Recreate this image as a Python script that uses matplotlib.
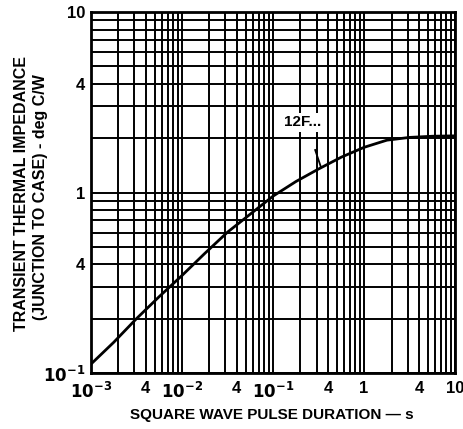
import matplotlib.pyplot as plt
from matplotlib.ticker import FixedLocator, NullFormatter

plt.rcParams['font.family'] = ['Liberation Sans', 'DejaVu Sans']
plt.rcParams['font.weight'] = 'bold'

# Curve (pulse duration s, impedance deg C/W)
pulse_s = [0.001, 0.00178, 0.00316, 0.00562, 0.01, 0.0178, 0.0316, 0.0562,
           0.1, 0.178, 0.316, 0.562, 1.0, 1.78, 3.16, 5.62, 10.0]
z_thermal = [0.112, 0.148, 0.20, 0.265, 0.347, 0.46, 0.603, 0.759,
             0.955, 1.15, 1.35, 1.57, 1.78, 1.95, 2.02, 2.05, 2.06]

x_ticks = [1e-3, 4e-3, 1e-2, 4e-2, 1e-1, 4e-1, 1, 4, 10]
x_labels = ['$\\mathbf{10^{-3}}$', '4', '$\\mathbf{10^{-2}}$', '4',
            '$\\mathbf{10^{-1}}$', '4', '1', '4', '10']
y_ticks = [0.1, 0.4, 1, 4, 10]
y_labels = ['$\\mathbf{10^{-1}}$', '4', '1', '4', '10']

fig = plt.figure(figsize=(4.64, 4.29), dpi=100)
ax = fig.add_axes([0.196, 0.1305, 0.785, 0.8415])

ax.set_xscale('log')
ax.set_yscale('log')
ax.set_xlim(1e-3, 10)
ax.set_ylim(0.1, 10)

ax.plot(pulse_s, z_thermal, color='black', lw=2.0, zorder=3)

ax.xaxis.set_major_locator(FixedLocator(x_ticks))
ax.xaxis.set_ticklabels(x_labels)
ax.yaxis.set_major_locator(FixedLocator(y_ticks))
ax.yaxis.set_ticklabels(y_labels)
ax.xaxis.set_minor_formatter(NullFormatter())
ax.yaxis.set_minor_formatter(NullFormatter())

ax.grid(True, which='both', color='black', lw=1.4)
ax.tick_params(which='both', length=0, labelsize=12)
ax.tick_params(axis='x', pad=6)
ax.tick_params(axis='y', pad=4)
for s in ax.spines.values():
    s.set_linewidth(2.0)

# device label with white box + little pointer
ax.text(0.21, 2.45, '12F...', fontsize=11, fontweight='bold', ha='center',
        va='center', zorder=4,
        bbox=dict(facecolor='white', edgecolor='none', pad=2))
ax.plot([0.29, 0.336], [1.72, 1.38], color='black', lw=1.3, zorder=4)

fig.text(0.047, 0.55, 'TRANSIENT THERMAL IMPEDANCE', rotation=90,
         ha='center', va='center', fontsize=11.5, fontweight='bold')
fig.text(0.088, 0.54, '(JUNCTION TO CASE) - deg C/W', rotation=90,
         ha='center', va='center', fontsize=11.5, fontweight='bold')
fig.text(0.585, 0.033, 'SQUARE WAVE PULSE DURATION \u2014 s',
         ha='center', va='center', fontsize=11, fontweight='bold')

fig.savefig('out.png', dpi=100)
